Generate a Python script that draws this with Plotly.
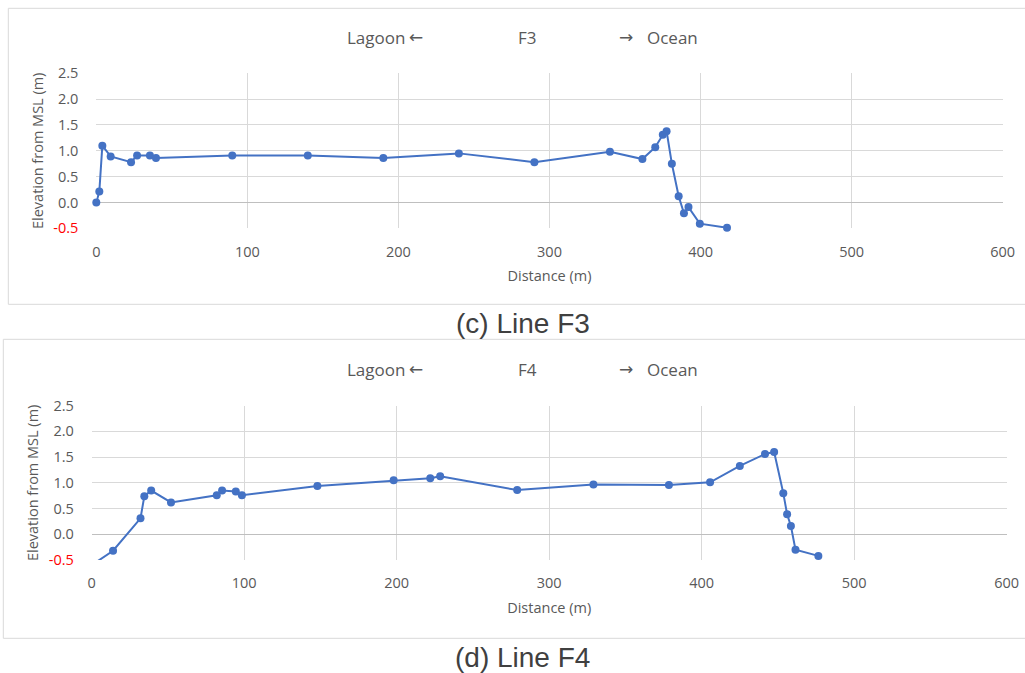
import plotly.graph_objects as go

# ---- data ----
f3_dist = [0, 2, 4, 9.5, 23, 27, 35.5, 39.5, 90, 140, 190, 240, 290, 340, 361.5, 370, 375, 377.5, 381, 385.5, 389, 392, 399.5, 417.5]
f3_elev = [0.0, 0.21, 1.10, 0.89, 0.78, 0.91, 0.91, 0.86, 0.91, 0.91, 0.86, 0.95, 0.78, 0.98, 0.84, 1.07, 1.31, 1.38, 0.75, 0.12, -0.21, -0.09, -0.41, -0.49]

f4_dist = [0, 14, 32, 34.5, 39, 52, 82, 85.5, 94.5, 98.5, 148, 198, 222, 228.5, 279, 329, 378.5, 405.5, 425, 441.5, 447.5, 453.5, 456, 458.5, 461.5, 476.5]
f4_elev = [-0.60, -0.32, 0.31, 0.74, 0.85, 0.62, 0.76, 0.85, 0.83, 0.76, 0.94, 1.05, 1.09, 1.13, 0.86, 0.97, 0.96, 1.01, 1.33, 1.56, 1.60, 0.80, 0.39, 0.16, -0.30, -0.42]

y_ticks = [-0.5, 0.0, 0.5, 1.0, 1.5, 2.0, 2.5]
y_tick_text = ["<span style='color:#ff0000'>-0.5</span>", "0.0", "0.5", "1.0", "1.5", "2.0", "2.5"]
x_ticks = [0, 100, 200, 300, 400, 500, 600]

W, H = 1025, 673
BLUE = "#4472C4"
GRID = "#d9d9d9"
TXT = "#595959"
FONT = "Open Sans"

fig = go.Figure()

fig.add_trace(go.Scatter(x=f3_dist, y=f3_elev, mode="lines+markers",
                         line=dict(color=BLUE, width=2), marker=dict(color=BLUE, size=8),
                         cliponaxis=False, xaxis="x", yaxis="y", showlegend=False, hoverinfo="skip"))
fig.add_trace(go.Scatter(x=f4_dist, y=f4_elev, mode="lines+markers",
                         line=dict(color=BLUE, width=2), marker=dict(color=BLUE, size=8),
                         cliponaxis=True, xaxis="x2", yaxis="y2", showlegend=False, hoverinfo="skip"))

def px_x(p):
    return p / W

def px_y(p):
    return 1 - p / H

xcommon = dict(range=[0, 600], tickvals=x_ticks, showgrid=True, gridcolor=GRID, gridwidth=1,
               zeroline=False, showline=False, ticks="outside", ticklen=10, automargin=False,
               tickcolor="rgba(0,0,0,0)", tickfont=dict(family=FONT, size=14.5, color=TXT),
               title=dict(text="Distance (m)", font=dict(family=FONT, size=14.5, color=TXT), standoff=11))
ycommon = dict(range=[-0.5, 2.5], tickvals=y_ticks, ticktext=y_tick_text, showgrid=True,
               gridcolor=GRID, gridwidth=1, zeroline=True, zerolinecolor="#bfbfbf", zerolinewidth=1,
               showline=False, ticks="outside", ticklen=14, tickcolor="rgba(0,0,0,0)", automargin=False,
               tickfont=dict(family=FONT, size=14.5, color=TXT),
               title=dict(text="Elevation from MSL (m)", font=dict(family=FONT, size=14.5, color=TXT), standoff=6))

fig.update_layout(
    template="none",
    width=W, height=H, margin=dict(l=0, r=0, t=0, b=0, pad=0),
    paper_bgcolor="white", plot_bgcolor="white",
    xaxis=dict(domain=[px_x(96.3), px_x(1002.7)], anchor="y", **xcommon),
    yaxis=dict(domain=[px_y(228.3), px_y(73.3)], anchor="x", **ycommon),
    xaxis2=dict(domain=[px_x(91.7), px_x(1006.7)], anchor="y2", **xcommon),
    yaxis2=dict(domain=[px_y(560), px_y(405.7)], anchor="x2", **ycommon),
)

shapes = [
    dict(type="rect", xref="paper", yref="paper", x0=px_x(8.3), x1=px_x(1030), y0=px_y(304.3), y1=px_y(8.3),
         line=dict(color=GRID, width=1), fillcolor="rgba(0,0,0,0)", layer="below"),
    dict(type="rect", xref="paper", yref="paper", x0=px_x(3.3), x1=px_x(1030), y0=px_y(638.3), y1=px_y(339.3),
         line=dict(color=GRID, width=1), fillcolor="rgba(0,0,0,0)", layer="below"),
]
fig.update_layout(shapes=shapes)

def ann(text, xpx, ypx, size, color=TXT, family=FONT):
    return dict(text=text, xref="paper", yref="paper", x=px_x(xpx), y=px_y(ypx),
                xanchor="center", yanchor="middle", showarrow=False,
                font=dict(family=family, size=size, color=color))

annotations = []
for name, yc in (("F3", 37), ("F4", 369)):
    annotations += [
        ann("Lagoon", 375.5, yc, 17),
        ann("\u2190", 416, yc, 17, family="DejaVu Sans"),
        ann(name, 527, yc, 17),
        ann("\u2192", 626, yc, 17, family="DejaVu Sans"),
        ann("Ocean", 672.5, yc, 17),
    ]
annotations += [
    ann("(c) Line F3", 522.5, 323, 28, color="#404040", family="Liberation Sans"),
    ann("(d) Line F4", 522.5, 657, 28, color="#404040", family="Liberation Sans"),
]
fig.update_layout(annotations=annotations)

fig.write_html("out.html", config={"displayModeBar": False},
               post_script="document.body.style.margin='0';document.body.style.overflow='hidden';")
